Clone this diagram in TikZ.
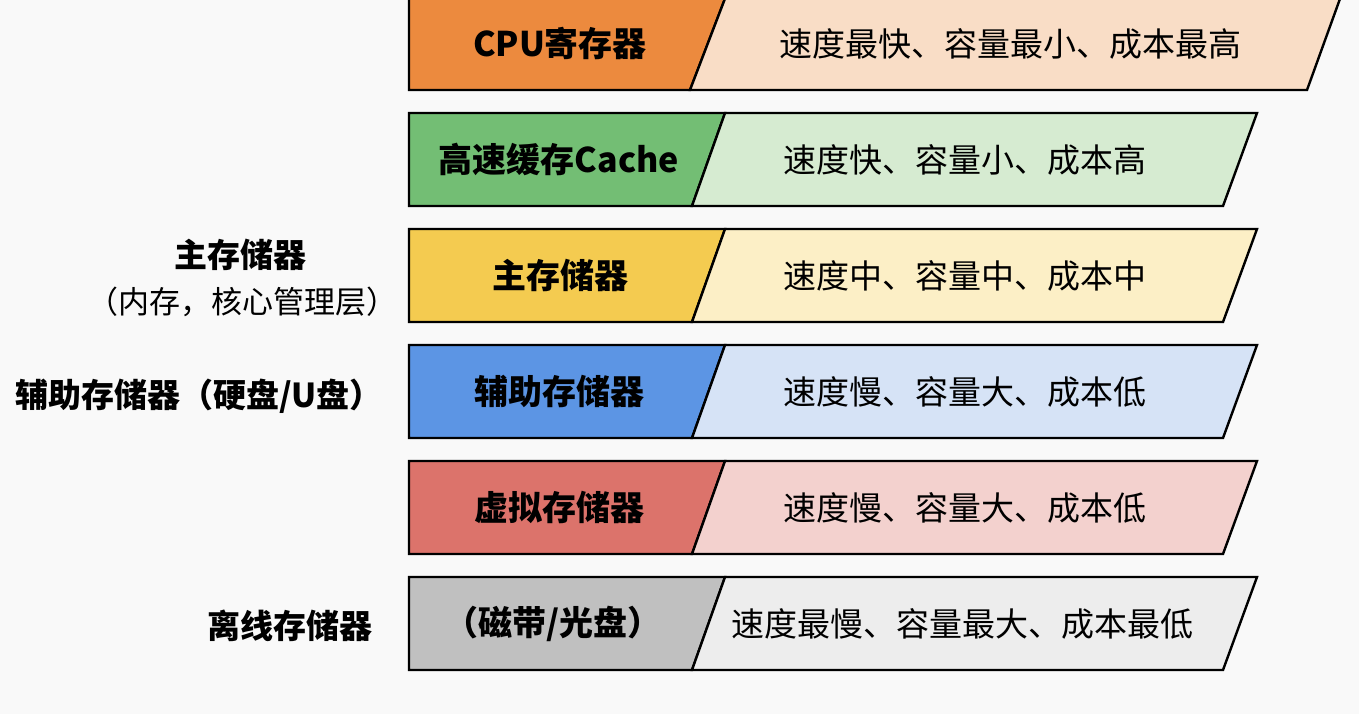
\documentclass[tikz,border=0pt]{standalone}
\usepackage{fontspec}
\setmainfont{Noto Sans CJK SC}
\definecolor{bgw}{HTML}{F9F9F9}
\definecolor{orL}{HTML}{EC8A3E}
\definecolor{orR}{HTML}{F9DDC6}
\definecolor{grL}{HTML}{73BE74}
\definecolor{grR}{HTML}{D6EBD1}
\definecolor{yeL}{HTML}{F4CB50}
\definecolor{yeR}{HTML}{FCEFC6}
\definecolor{blL}{HTML}{5C95E4}
\definecolor{blR}{HTML}{D6E3F6}
\definecolor{reL}{HTML}{DC736B}
\definecolor{reR}{HTML}{F3D1CE}
\definecolor{gyL}{HTML}{C0C0C0}
\definecolor{gyR}{HTML}{EDEDED}
\begin{document}
\begin{tikzpicture}[x=1pt,y=-1pt,
  frame/.style={draw=black,line width=2.4pt,line join=miter},
  tier/.style={font=\bfseries\fontsize{34}{40}\selectfont,inner sep=0pt},
  desc/.style={font=\fontsize{33}{40}\selectfont,inner sep=0pt},
  side/.style={font=\bfseries\fontsize{33}{40}\selectfont,inner sep=0pt},
  sidesub/.style={font=\fontsize{31}{36}\selectfont,inner sep=0pt}]
\fill[bgw] (0,0) rectangle (1359,714);
\useasboundingbox (0,0) rectangle (1359,714);
\begin{scope}
\clip (0,0) rectangle (1359,714);
% row 1
\filldraw[frame,fill=orL] (409,-4) -- (726,-4) -- (690,90) -- (409,90) -- cycle;
\filldraw[frame,fill=orR] (726,-4) -- (1341,-4) -- (1307,90) -- (690,90) -- cycle;
\end{scope}
\node[tier] (t1) at (560,44) {CPU寄存器};
\node[desc] (d1) at (1010,44) {速度最快、容量最小、成本最高};
% row 2
\filldraw[frame,fill=grL] (409,113) -- (725,113) -- (692,206) -- (409,206) -- cycle;
\filldraw[frame,fill=grR] (725,113) -- (1257,113) -- (1223,206) -- (692,206) -- cycle;
\node[tier] (t2) at (559,159.5) {高速缓存Cache};
\node[desc] (d2) at (965,159.5) {速度快、容量小、成本高};
% row 3
\filldraw[frame,fill=yeL] (409,229) -- (725,229) -- (692,322) -- (409,322) -- cycle;
\filldraw[frame,fill=yeR] (725,229) -- (1257,229) -- (1223,322) -- (692,322) -- cycle;
\node[tier] (t3) at (560,275.5) {主存储器};
\node[desc] (d3) at (965,275.5) {速度中、容量中、成本中};
% row 4
\filldraw[frame,fill=blL] (409,345) -- (725,345) -- (692,438) -- (409,438) -- cycle;
\filldraw[frame,fill=blR] (725,345) -- (1257,345) -- (1223,438) -- (692,438) -- cycle;
\node[tier] (t4) at (559,391.5) {辅助存储器};
\node[desc] (d4) at (965,391.5) {速度慢、容量大、成本低};
% row 5
\filldraw[frame,fill=reL] (409,461) -- (725,461) -- (692,554) -- (409,554) -- cycle;
\filldraw[frame,fill=reR] (725,461) -- (1257,461) -- (1223,554) -- (692,554) -- cycle;
\node[tier] (t5) at (559,507.5) {虚拟存储器};
\node[desc] (d5) at (965,507.5) {速度慢、容量大、成本低};
% row 6
\filldraw[frame,fill=gyL] (409,577) -- (725,577) -- (692,670) -- (409,670) -- cycle;
\filldraw[frame,fill=gyR] (725,577) -- (1257,577) -- (1223,670) -- (692,670) -- cycle;
\node[tier] (t6) at (553,623.5) {（磁带/光盘）};
\node[desc] (d6) at (962,623.5) {速度最慢、容量最大、成本最低};
% side labels
\node[side] (s3) at (240,255) {主存储器};
\node[sidesub] (s3b) at (242,302) {（内存，核心管理层）};
\node[side] (s4) at (199,396) {辅助存储器（硬盘/U盘）};
\node[side] (s6) at (290,626) {离线存储器};
\end{tikzpicture}
\end{document}
